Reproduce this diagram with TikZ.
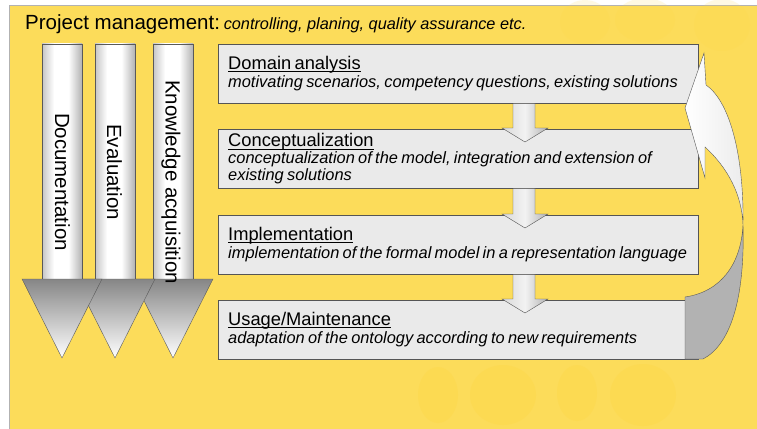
\documentclass[tikz,border=0pt]{standalone}
\usepackage{fontspec}
\setmainfont{Liberation Sans}
\usetikzlibrary{calc}

\definecolor{pmyellow}{RGB}{252,220,90}
\definecolor{pmspot}{RGB}{253,214,66}
\definecolor{boxgray}{RGB}{234,234,234}
\definecolor{edgegray}{RGB}{85,85,85}

\pgfdeclarehorizontalshading{shaftshade}{100bp}{color(0bp)=(gray!45);
  color(25bp)=(gray!45); color(40bp)=(white); color(58bp)=(white);
  color(75bp)=(gray!60); color(100bp)=(gray!60)}

\tikzset{
  phase/.style={draw=edgegray, fill=boxgray, anchor=north west,
    minimum width=480pt, minimum height=59pt, text width=460pt,
    inner xsep=10pt, inner ysep=2pt, align=left},
  biglabel/.style={rotate=-90, inner sep=0pt, font=\fontsize{20.5}{24}\selectfont},
  shaft/.style={draw=gray!70!black, shading=shaftshade},
  head/.style={draw=gray!70!black, top color=gray!95, bottom color=white},
  blockarrow/.style={draw=gray!65!black, shading=axis, left color=gray!30,
    right color=gray!60, middle color=gray!10},
  spot/.style={fill=pmspot, opacity=0.3}
}

\newcommand{\phasetitle}[1]{{\fontsize{18.3}{21}\selectfont
  \setbox0\hbox{#1}\rlap{\rule[-2.5pt]{\wd0}{0.6pt}}\box0}}
\newcommand{\phasetext}{\fontsize{16.4}{20}\selectfont\itshape}

% big arrow: centre x, top y, head y, tip y
\newcommand{\bigdown}[4]{%
  \draw[shaft] (#1-20,#2) rectangle (#1+20,#3);
  \draw[head] (#1-40,#3) -- (#1+40,#3) -- (#1,#4) -- cycle;}

% step arrow between two phase boxes
\newcommand{\stepdown}[2]{%
  \draw[blockarrow] ($(#1.south west)+(295,0)$) -- ($(#1.south west)+(317,0)$)
    -- ($(#2.north west)+(317,-1)$) -- ($(#2.north west)+(330,-1)$)
    -- ($(#2.north west)+(307,13)$) -- ($(#2.north west)+(284,-1)$)
    -- ($(#2.north west)+(295,-1)$) -- cycle;}

\begin{document}
\begin{tikzpicture}[x=1pt, y=-1pt]
  \useasboundingbox (0,0) rectangle (757,428);
  \fill[white] (0,0) rectangle (757,428);
  \filldraw[fill=pmyellow, draw=gray!60] (9,5) rectangle (760,431);

  % faint spots in the background
  \fill[spot] (438,395) ellipse (20 and 28);
  \fill[spot] (503,395) ellipse (33 and 30);
  \fill[spot] (577,393) ellipse (20 and 28);
  \fill[spot] (643,395) ellipse (33 and 31);
  \fill[spot, opacity=0.15] (585,22) ellipse (25 and 22);
  \fill[spot, opacity=0.15] (645,20) ellipse (30 and 22);
  \fill[spot, opacity=0.15] (722,25) ellipse (28 and 26);

  \node[anchor=base west, inner sep=0pt] (pm) at (25,30)
    {{\fontsize{20.5}{24}\selectfont Project management:}
     {\fontsize{16.3}{19}\selectfont\itshape controlling, planing, quality assurance etc.}};

  % the three running activities
  \bigdown{173}{44}{279}{358}
  \bigdown{115}{44}{279}{358}
  \bigdown{62}{44}{279}{358}
  \node[biglabel] (doc) at (62.5,182) {Documentation};
  \node[biglabel] (eval) at (114.5,172) {Evaluation};
  \node[biglabel] (know) at (171,182) {Knowledge acquisition};

  % phases
  \node[phase] (dom) at (218,44)
    {\phasetitle{Domain analysis}\\[1.5pt]
     {\phasetext motivating scenarios, competency questions, existing solutions}};
  \node[phase] (con) at (218,129)
    {\phasetitle{Conceptualization}\\
     {\phasetext conceptualization of the model, integration and extension of}\\[1pt]
     {\phasetext existing solutions}};
  \node[phase] (imp) at (218,215)
    {\phasetitle{Implementation}\\[1.5pt]
     {\phasetext implementation of the formal model in a representation language}};
  \node[phase] (use) at (218,300)
    {\phasetitle{Usage/Maintenance}\\[1.5pt]
     {\phasetext adaptation of the ontology according to new requirements}};

  \stepdown{dom}{con}
  \stepdown{con}{imp}
  \stepdown{imp}{use}

  % feedback loop from usage back to domain analysis
  \draw[draw=gray!70!black, fill=gray!60]
    (743,225) .. controls (741,265) and (720,292) .. (685,297)
    -- (685,359) -- (703,359)
    .. controls (730,345) and (745,300) .. (743,225) -- cycle;
  \draw[draw=gray!70!black, shading=axis, left color=white, right color=gray!15]
    (704,53) -- (685,108) -- (705,178) -- (705,147)
    .. controls (728,168) and (742,195) .. (743,225)
    .. controls (744,150) and (728,100) .. (706,85) -- cycle;
\end{tikzpicture}
\end{document}
